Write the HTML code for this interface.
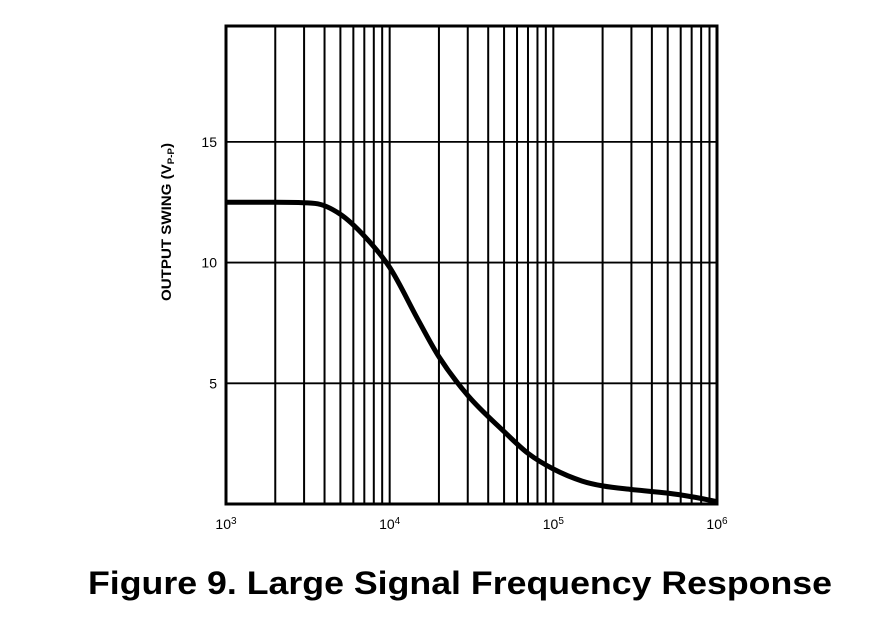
<!DOCTYPE html>
<html><head><meta charset="utf-8"><style>
html,body{margin:0;padding:0;background:#fff;width:889px;height:621px;overflow:hidden}
svg{display:block}
text{font-family:"Liberation Sans",Arial,sans-serif;fill:#000}
</style></head><body>
<svg id="chart" width="889" height="621" viewBox="0 0 889 621">
<g id="grid"></g>
<g id="curve"></g>
<g id="labels"></g>
<text transform="translate(171,222) rotate(-90)" text-anchor="middle" font-size="14" font-weight="bold" textLength="158" lengthAdjust="spacingAndGlyphs">OUTPUT SWING (V<tspan font-size="9" dy="3">P-P</tspan><tspan dy="-3">)</tspan></text>
<text x="88" y="594" font-size="32" font-weight="bold" textLength="744" lengthAdjust="spacingAndGlyphs">Figure 9. Large Signal Frequency Response</text>
</svg>
<script>
const freqs = [1e3, 2e3, 3.5e3, 5e3, 7e3, 1e4, 1.5e4, 2e4, 3e4, 5e4, 7e4, 1e5, 1.5e5, 2e5, 3e5, 5e5, 7e5, 1e6];
const swing = [12.5, 12.5, 12.45, 12.0, 11.1, 9.8, 7.6, 6.1, 4.5, 3.0, 2.1, 1.45, 0.95, 0.75, 0.6, 0.45, 0.3, 0.1];
const yTicks = [5, 10, 15];
const xDecades = [3, 4, 5, 6];

const L=226, R=717, T=26, B=504, YMAX=19.8;
const xs = f => L + (Math.log10(f)-3)/3*(R-L);
const ys = v => B - v/YMAX*(B-T);
const NS="http://www.w3.org/2000/svg";
const grid=document.getElementById('grid'), curve=document.getElementById('curve'), labels=document.getElementById('labels');
function line(x1,y1,x2,y2,w,name){
  const l=document.createElementNS(NS,'line');
  l.setAttribute('x1',x1);l.setAttribute('y1',y1);l.setAttribute('x2',x2);l.setAttribute('y2',y2);
  l.setAttribute('stroke','#000');l.setAttribute('stroke-width',w);
  
  
  grid.appendChild(l);
}
for(let d=3; d<6; d++){
  for(let m=2; m<=9; m++){
    const x=xs(m*Math.pow(10,d));
    line(x,T,x,B,2,'x-gridline');
  }
}
xDecades.forEach(d=>{
  const x=xs(Math.pow(10,d));
  line(x,T,x,B,2,'x-decade-gridline');
  const t=document.createElementNS(NS,'text');
  t.setAttribute('x',x);t.setAttribute('y',B+25);t.setAttribute('text-anchor','middle');t.setAttribute('font-size','14');
  t.innerHTML='10<tspan dy="-5" font-size="10">'+d+'</tspan>';
  
  
  labels.appendChild(t);
});
yTicks.forEach(v=>{
  const y=ys(v);
  line(L,y,R,y,1.8,'y-gridline');
  const t=document.createElementNS(NS,'text');
  t.setAttribute('x',L-9);t.setAttribute('y',y+5);t.setAttribute('text-anchor','end');t.setAttribute('font-size','14');
  t.textContent=v;
  
  
  labels.appendChild(t);
});
const frame=document.createElementNS(NS,'rect');
frame.setAttribute('x',L);frame.setAttribute('y',T);frame.setAttribute('width',R-L);frame.setAttribute('height',B-T);
frame.setAttribute('fill','none');frame.setAttribute('stroke','#000');frame.setAttribute('stroke-width','3');


grid.appendChild(frame);
// monotone cubic (Fritsch-Carlson) path
const px=freqs.map(xs), py=swing.map(ys), n=px.length;
const dk=[], m=[];
for(let i=0;i<n-1;i++) dk.push((py[i+1]-py[i])/(px[i+1]-px[i]));
m[0]=dk[0]; m[n-1]=dk[n-2];
for(let i=1;i<n-1;i++){ m[i]=(dk[i-1]*dk[i]<=0)?0:(dk[i-1]+dk[i])/2; }
for(let i=0;i<n-1;i++){
  if(dk[i]===0){m[i]=0;m[i+1]=0;continue;}
  const a=m[i]/dk[i], b=m[i+1]/dk[i], s=a*a+b*b;
  if(s>9){const t=3/Math.sqrt(s); m[i]=t*a*dk[i]; m[i+1]=t*b*dk[i];}
}
let d='M'+px[0]+','+py[0];
for(let i=0;i<n-1;i++){
  const h=(px[i+1]-px[i])/3;
  d+=' C'+(px[i]+h)+','+(py[i]+m[i]*h)+' '+(px[i+1]-h)+','+(py[i+1]-m[i+1]*h)+' '+px[i+1]+','+py[i+1];
}
const p=document.createElementNS(NS,'path');
p.setAttribute('d',d);p.setAttribute('fill','none');p.setAttribute('stroke','#000');p.setAttribute('stroke-width','5');


curve.appendChild(p);
</script>
</body></html>
